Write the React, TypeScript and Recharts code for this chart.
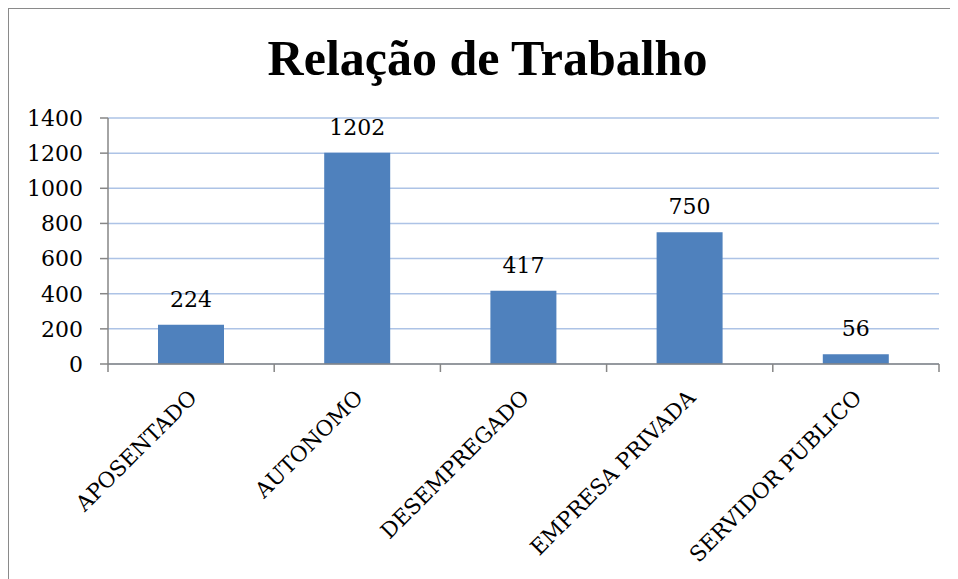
import React from 'react';
import { BarChart, Bar, XAxis, YAxis, CartesianGrid, LabelList } from 'recharts';

const categories = ['APOSENTADO', 'AUTONOMO', 'DESEMPREGADO', 'EMPRESA PRIVADA', 'SERVIDOR PUBLICO'];
const counts = [224, 1202, 417, 750, 56];
const yTicks = [0, 200, 400, 600, 800, 1000, 1200, 1400];
const title = 'Relação de Trabalho';

const data = categories.map((name, i) => ({ name, value: counts[i] }));

const CHART_W = 940;
const CHART_H = 560;
const MARGIN = { top: 109, right: 10, left: 0, bottom: 0 };
const Y_AXIS_W = 99;
const X_AXIS_H = CHART_H - 355;
const PLOT_W = CHART_W - MARGIN.left - MARGIN.right - Y_AXIS_W;
const BAND = PLOT_W / categories.length;

const AXIS_COLOR = '#868686';
const BAR_COLOR = '#4f81bd';
const GRID_COLOR = '#adc3e6';
const FONT = '"DejaVu Serif", serif';

const CategoryTick = (props: any) => {
  const { x, y, payload, index } = props;
  const last = index === categories.length - 1;
  return (
    <g>
      <line x1={x - BAND / 2} y1={y} x2={x - BAND / 2} y2={y + 8} stroke={AXIS_COLOR} strokeWidth={1.5} />
      {last && <line x1={x + BAND / 2} y1={y} x2={x + BAND / 2} y2={y + 8} stroke={AXIS_COLOR} strokeWidth={1.5} />}
      <text
        transform={`translate(${x + 7},${y + 35}) rotate(-45)`}
        textAnchor="end"
        fontFamily={FONT}
        fontSize={21.5}
        fill="#000"
      >
        {payload.value}
      </text>
    </g>
  );
};

export default function App() {
  return (
    <div
      style={{
        width: 949,
        height: 570,
        borderLeft: '1px solid #8a8a8a',
        borderTop: '1px solid #8a8a8a',
        background: '#fff',
        overflow: 'hidden',
      }}
    >
      <BarChart width={CHART_W} height={CHART_H} data={data} margin={MARGIN}>
        <text
          x={478.5}
          y={66}
          textAnchor="middle"
          fontFamily='"Liberation Serif", serif'
          fontWeight="bold"
          fontSize={50}
          fill="#000"
        >
          {title}
        </text>
        <CartesianGrid horizontal vertical={false} stroke={GRID_COLOR} strokeWidth={1.5} />
        <XAxis
          dataKey="name"
          height={X_AXIS_H}
          interval={0}
          tickLine={false}
          tickSize={0}
          tickMargin={0}
          axisLine={{ stroke: AXIS_COLOR, strokeWidth: 1.5 }}
          tick={<CategoryTick />}
        />
        <YAxis
          width={Y_AXIS_W}
          domain={[0, 1400]}
          ticks={yTicks}
          interval={0}
          tickSize={8}
          tickMargin={17}
          axisLine={{ stroke: AXIS_COLOR, strokeWidth: 1.5 }}
          tickLine={{ stroke: AXIS_COLOR, strokeWidth: 1.5 }}
          tick={{ fill: '#000', fontFamily: FONT, fontSize: 22 }}
        />
        <Bar dataKey="value" fill={BAR_COLOR} barSize={66} isAnimationActive={false}>
          <LabelList dataKey="value" position="top" offset={18} fill="#000" fontFamily={FONT} fontSize={22} />
        </Bar>
      </BarChart>
    </div>
  );
}
